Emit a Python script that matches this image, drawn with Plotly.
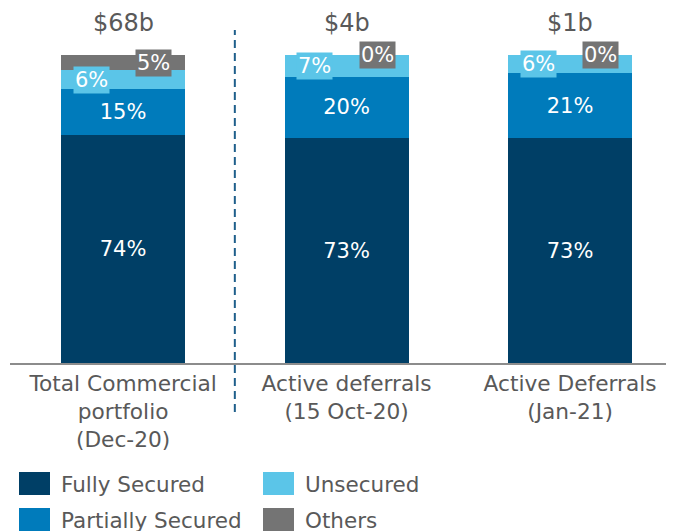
"""
Commercial portfolio security mix - stacked bar chart
"""

import plotly.graph_objects as go

# Data
categories = ['Total Commercial<br>portfolio<br>(Dec-20)',
              'Active deferrals<br>(15 Oct-20)',
              'Active Deferrals<br>(Jan-21)']
totals = ['$68b', '$4b', '$1b']
fully_secured = [74, 73, 73]
partially_secured = [15, 20, 21]
unsecured = [6, 7, 6]
others = [5, 0, 0]

COLORS = {
    'Fully Secured': '#003F66',
    'Partially Secured': '#007BBB',
    'Unsecured': '#5BC5E8',
    'Others': '#747474',
}
TEXT_GRAY = '#595959'
FONT = 'DejaVu Sans, Verdana, sans-serif'

# page body adds an 8px margin, so work in window pixels and shift
OFF = 8
W, H = 674, 531
M_L, M_R, M_T, M_B = 10 - OFF, OFF, 0, H - (363 - OFF)
PLOT_W = W - M_L - M_R
PLOT_H = H - M_T - M_B


def px_x(x):
    return (x - OFF - M_L) / PLOT_W


def px_y(y):
    return (H - M_B - (y - OFF)) / PLOT_H


x_pos = list(range(len(categories)))
fig = go.Figure()

for name, vals, show_text in [
    ('Fully Secured', fully_secured, True),
    ('Partially Secured', partially_secured, True),
    ('Unsecured', unsecured, False),
    ('Others', others, False),
]:
    fig.add_trace(go.Bar(
        x=x_pos,
        y=vals,
        name=name,
        width=0.555,
        marker=dict(color=COLORS[name], line=dict(width=0)),
        text=[f'{v}%' for v in vals] if show_text else None,
        textposition='inside' if show_text else 'none',
        insidetextanchor='middle',
        textfont=dict(color='white', size=21, family=FONT),
        showlegend=False,
    ))

# Boxed labels for the thin top segments
for i in x_pos:
    base = fully_secured[i] + partially_secured[i]
    fig.add_annotation(
        x=i - 0.143, y=base + unsecured[i] / 2,
        text=f'{unsecured[i]}%', showarrow=False,
        font=dict(color='white', size=21, family=FONT),
        bgcolor=COLORS['Unsecured'], borderpad=1,
    )
    fig.add_annotation(
        x=i + 0.137, y=base + unsecured[i] + others[i] / 2,
        text=f'{others[i]}%', showarrow=False,
        font=dict(color='white', size=21, family=FONT),
        bgcolor=COLORS['Others'], borderpad=1,
    )
    # totals above bars
    top = base + unsecured[i] + others[i]
    fig.add_annotation(
        x=i, y=top, yanchor='bottom', yshift=17,
        text=totals[i], showarrow=False, borderpad=0,
        font=dict(color=TEXT_GRAY, size=24, family=FONT),
    )

# Dashed separator
fig.add_shape(type='line', xref='x', yref='paper',
              x0=0.5, x1=0.5, y0=px_y(412), y1=px_y(30),
              line=dict(color='#1F5F8B', width=2, dash='8px,5px'))

# Custom legend
legend_items = [
    ('Fully Secured', 19, 472),
    ('Unsecured', 263, 472),
    ('Partially Secured', 19, 508),
    ('Others', 263, 508),
]
for name, lx, ly in legend_items:
    fig.add_shape(type='rect', xref='paper', yref='paper',
                  x0=px_x(lx), x1=px_x(lx + 31),
                  y0=px_y(ly), y1=px_y(ly + 23),
                  fillcolor=COLORS[name], line=dict(width=0))
    fig.add_annotation(xref='paper', yref='paper',
                       x=px_x(lx + 40), y=px_y(ly + 12),
                       xanchor='left', yanchor='middle',
                       text=name, showarrow=False,
                       font=dict(color=TEXT_GRAY, size=21.5, family=FONT))

fig.update_layout(
    barmode='stack',
    width=W, height=H,
    margin=dict(l=M_L, r=M_R, t=M_T, b=M_B),
    plot_bgcolor='white',
    paper_bgcolor='white',
    font=dict(family=FONT, color=TEXT_GRAY),
    xaxis=dict(
        tickmode='array', tickvals=x_pos, ticktext=categories,
        range=[-0.506, 2.465],
        showline=True, linecolor='#8C8C8C', linewidth=1.5,
        showgrid=False, zeroline=False, ticks='',
        tickfont=dict(size=21.7, color=TEXT_GRAY, family=FONT),
    ),
    yaxis=dict(
        range=[0, PLOT_H / 3.08],
        visible=False, showgrid=False, zeroline=False,
    ),
    uniformtext=dict(mode=False),
)

fig.write_html("out.html")
